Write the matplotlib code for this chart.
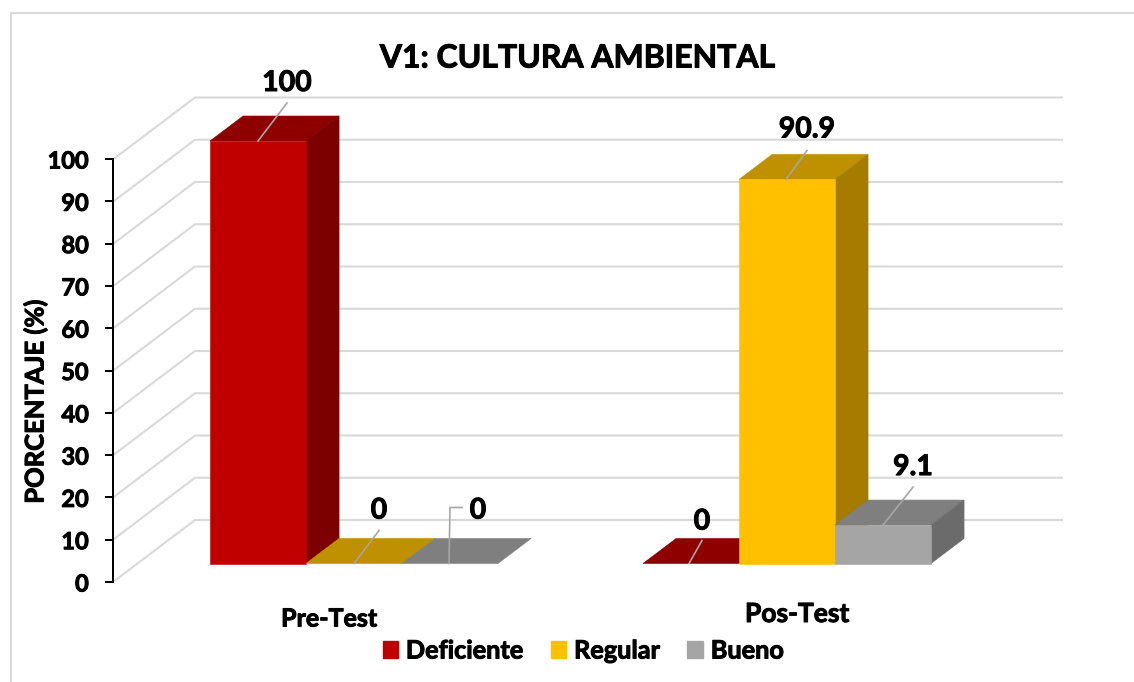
import matplotlib
matplotlib.use("Agg")
import matplotlib.pyplot as plt
import matplotlib.patheffects as pe
from matplotlib.lines import Line2D
from matplotlib.patches import Patch, Polygon
from matplotlib.text import Text

# ---- data ----
categories = ["Pre-Test", "Pos-Test"]
series_names = ["Deficiente", "Regular", "Bueno"]
deficiente = [100, 0]
regular = [0, 90.9]
bueno = [0, 9.1]
value_labels = [["100", "0"], ["0", "90.9"], ["0", "9.1"]]
y_ticks = [0, 10, 20, 30, 40, 50, 60, 70, 80, 90, 100]

# ---- style ----
FONT = "Lato"
W, H = 1134, 682
front = ["#C00000", "#FFC000", "#A5A5A5"]
top = ["#8E0000", "#BF9000", "#7F7F7F"]
side = ["#7C0000", "#A67C00", "#6B6B6B"]
grid_c = "#D9D9D9"
lead_c = "#A6A6A6"

fig = plt.figure(figsize=(W / 100, H / 100), dpi=100, facecolor="white")
plt.rcParams["font.family"] = FONT
plt.rcParams["font.weight"] = "bold"

PX_CAT = 433     # pixels per category step
PX_VAL = 4.225   # pixels per percentage unit
X0 = 354         # pixel of first category
Y0 = 563.5       # pixel of value 0 on the bar front plane

ax = fig.add_axes([0, 0, 1, 1])
ax.set_xlim(-X0 / PX_CAT, (W - X0) / PX_CAT)
ax.set_ylim((Y0 - H) / PX_VAL, Y0 / PX_VAL)
ax.axis("off")

# oblique depth projection: depth 0 = axis plane, 1 = back wall
DX = 82 / PX_CAT
DY = 62 / PX_VAL
D0 = 18.5 / 62
D1 = D0 + 25 / 62
BW = 96 / PX_CAT


def proj(x, v, d):
    return (x + (d - D0) * DX, v + (d - D0) * DY)


# walls
wall_left = (113 - X0) / PX_CAT + D0 * DX
wall_right = (1062 - X0) / PX_CAT - (1 - D0) * DX
for v in y_ticks:
    a, b, c = proj(wall_left, v, 0), proj(wall_left, v, 1), proj(wall_right, v, 1)
    ax.plot([a[0], b[0], c[0]], [a[1], b[1], c[1]], color=grid_c, lw=1.5, zorder=1,
            solid_joinstyle="miter")


# bars
def box(x0, x1, v, idx, z):
    pts_top = [proj(x0, v, D0), proj(x1, v, D0), proj(x1, v, D1), proj(x0, v, D1)]
    ax.add_patch(Polygon(pts_top, closed=True, fc=top[idx], ec=top[idx], lw=0.4, zorder=z))
    if v > 0:
        pts_side = [proj(x1, 0, D0), proj(x1, v, D0), proj(x1, v, D1), proj(x1, 0, D1)]
        ax.add_patch(Polygon(pts_side, closed=True, fc=side[idx], ec=side[idx], lw=0.4, zorder=z))
        pts_front = [proj(x0, 0, D0), proj(x1, 0, D0), proj(x1, v, D0), proj(x0, v, D0)]
        ax.add_patch(Polygon(pts_front, closed=True, fc=front[idx], ec=front[idx], lw=0.4, zorder=z + 0.1))


all_series = [deficiente, regular, bueno]
z = 2
for c in range(len(categories)):
    for s, vals in enumerate(all_series):
        cx = c + (s - 1) * BW
        box(cx - BW / 2, cx + BW / 2, vals[c], s, z)
        z += 1

# data labels with leader lines: (leader start shift, leader path, label centre) in pixels
leaders = {
    (0, 0): (0, [(29, 38)], (29, 60)),
    (1, 0): (0, [(25, 33)], (25, 55)),
    (2, 0): (-1, [(1, 56), (13, 56)], (29, 55)),
    (0, 1): (-2, [(13, 23)], (13, 44)),
    (1, 1): (-1, [(21, 29)], (21, 52)),
    (2, 1): (0, [(30, 38)], (30, 60)),
}
tr = ax.transData
for (s, c), (shift, path, lab) in leaders.items():
    vals = all_series[s]
    ax_x, ax_y = c + (s - 1) * BW, vals[c]
    bx, by = tr.transform((ax_x, ax_y))
    bx += shift
    xs, ys = [bx], [by]
    for dx, dy in path:
        xs.append(bx + dx)
        ys.append(by + dy)
    pts = tr.inverted().transform(list(zip(xs, ys)))
    ax.plot(pts[:, 0], pts[:, 1], color=lead_c, lw=1.2, zorder=50, solid_joinstyle="miter")
    ax.annotate(value_labels[s][c], xy=(ax_x, ax_y), xytext=(lab[0] + shift, lab[1] - 2),
                xycoords="data", textcoords="offset pixels", ha="center", va="center",
                fontsize=20.5, fontweight="bold", fontfamily=FONT, color="black", zorder=60)

# category labels
cat_pos = [(329 - X0) / PX_CAT, (797 - X0) / PX_CAT]
cat_val = [(Y0 - 619) / PX_VAL, (Y0 - 614) / PX_VAL]
cat_size = [18, 19]
for name, x, y, fs in zip(categories, cat_pos, cat_val, cat_size):
    ax.text(x, y, name, ha="center", va="center", fontsize=fs, fontweight="bold",
            fontfamily=FONT, color="black")

# value axis
ay = fig.add_axes([113 / W, 1 - 582 / H, 0.001, (582 - 159) / H])
ay.patch.set_alpha(0)
ay.set_ylim(0, 100)
ay.set_xticks([])
ay.set_yticks(y_ticks)
ay.set_yticklabels([str(t) for t in y_ticks], fontsize=17, fontweight="bold", fontfamily=FONT)
ay.tick_params(axis="y", length=5.8, width=1.44, pad=11.6, color="black")
for sp in ("top", "right", "bottom"):
    ay.spines[sp].set_visible(False)
ay.spines["left"].set_linewidth(1.44)

fig.text(35 / W, 1 - 402 / H, "PORCENTAJE (%)", rotation=90, ha="center", va="center",
         fontsize=18.4, fontweight="bold", fontfamily=FONT)
fig.text(578 / W, 1 - 58 / H, "V1: CULTURA AMBIENTAL", ha="center", va="center",
         fontsize=23, fontweight="bold", fontfamily=FONT)

# legend
handles = [Patch(fc=f, ec=f) for f in front]
fig.legend(handles, series_names, loc="center", bbox_to_anchor=(583 / W, 1 - 651 / H), ncols=3,
           frameon=False, handlelength=0.62, handleheight=0.62, handletextpad=0.3,
           columnspacing=1.1, prop={"family": FONT, "weight": "bold", "size": 18.2})

# chart frame
lk = dict(color=grid_c, lw=1.5, transform=fig.transFigure)
fig.add_artist(Line2D([11 / W, 11 / W, 1], [0, 1 - 13 / H, 1 - 13 / H], **lk))

# heavier strokes so the lettering reaches the reference's weight
for t in fig.findobj(Text):
    t.set_path_effects([pe.withStroke(linewidth=0.7, foreground="black")])

fig.savefig("out.png", dpi=100)
